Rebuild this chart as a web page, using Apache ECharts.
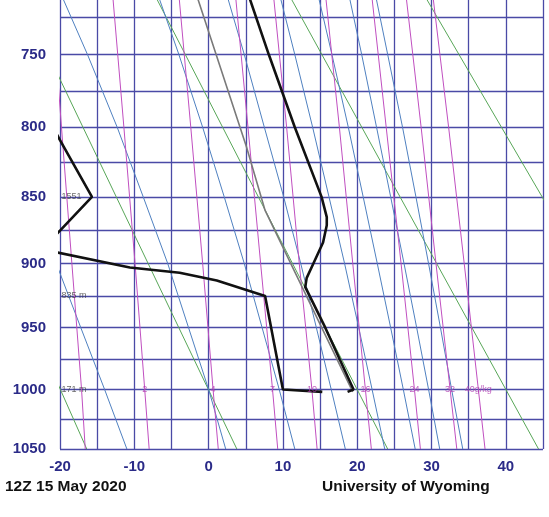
<!DOCTYPE html>
<html>
<head>
<meta charset="utf-8">
<title>stuve</title>
<script src="https://cdn.jsdelivr.net/npm/echarts@6/dist/echarts.min.js"></script>
<style>
  html, body, #main { margin: 0; width: 100%; height: 100%; background: #fff; }
</style>
</head>
<body>
<div id="main"></div>
<script>
// vertical scale of a Stuve diagram: y = p^kappa
var KAPPA = 0.286;
var pk = function (p) { return Math.pow(p, KAPPA); };
var unpk = function (v) { return Math.round(Math.pow(v, 1 / KAPPA)); };

var topPress = 714;
var pressLabels = [750, 800, 850, 900, 950, 1000, 1050];
var pressLines = [725, 750, 775, 800, 825, 850, 875, 900, 925, 950, 975, 1000, 1025, 1050];

// dry adiabats, temperature (C) at 700 and 1050 hPa
var dryLevels = [700, 1050];
var dryAdiabats = [
  [-44.5, -16.4],
  [-26.5, 3.8],
  [-8.4, 24.1],
  [9.6, 44.4],
  [27.7, 64.7]
];

// moist adiabats
var moistLevels = [700, 750, 800, 850, 900, 950, 1000, 1050];
var moistAdiabats = [
  [-36.8, -32.2, -28.0, -24.1, -20.5, -17.2, -14.0, -11.0],
  [-20.8, -16.3, -12.3, -8.8, -5.5, -2.7, 0.0, 2.3],
  [-7.6, -4.0, -0.8, 2.1, 4.8, 7.2, 9.5, 11.6],
  [1.8, 4.8, 7.5, 10.1, 12.4, 14.5, 16.5, 18.4],
  [9.0, 11.6, 14.0, 16.2, 18.3, 20.2, 22.0, 23.7],
  [14.2, 16.6, 18.8, 20.8, 22.7, 24.5, 26.2, 27.8],
  [18.4, 20.6, 22.6, 24.5, 26.3, 28.0, 29.6, 31.1],
  [22.0, 24.1, 26.1, 27.9, 29.6, 31.2, 32.7, 34.2]
];

// saturation mixing ratio lines
var mixLevels = [700, 800, 900, 1000, 1050];
var mixRatios = [
  [-21.3, -19.8, -18.4, -17.1, -16.6],
  [-13.1, -11.4, -9.9, -8.6, -8.0],
  [-4.2, -2.4, -0.8, 0.6, 1.3],
  [3.4, 5.3, 7.0, 8.6, 9.3],
  [8.5, 10.5, 12.2, 13.9, 14.6],
  [15.5, 17.6, 19.4, 21.1, 21.9],
  [21.7, 23.9, 25.9, 27.7, 28.5],
  [26.3, 28.6, 30.6, 32.5, 33.4],
  [29.9, 32.3, 34.4, 36.3, 37.2]
];
var mixNames = ['', '2', '4', '7', '10', '16', '24', '32', '40g/kg'];
var mixLabelLevel = 1000;

// sounding
var tempP = [700, 750, 800, 850, 865, 871, 884, 900, 911, 918, 950, 1000, 1002];
var tempT = [4.6, 8.1, 11.6, 15.2, 15.9, 15.9, 15.4, 14.1, 13.2, 13.0, 15.7, 19.5, 18.7];
var dewP = [781, 809, 850, 875, 889, 903, 907, 913, 925, 1000, 1002];
var dewT = [-23.0, -20.0, -15.7, -20.0, -22.5, -10.6, -3.9, 1.1, 7.6, 10.0, 15.3];
var parcelP = [700, 714, 814, 860, 1002];
var parcelT = [-2.3, -1.4, 5.1, 7.6, 19.4];

var heightP = [850, 925, 1000];
var heightText = ['1551', '835 m', '171 m'];

var FONT = 'Liberation Sans, Arial, sans-serif';
var GRID = '#4a4aa6';

function line(levels, temps, color, width, z) {
  return {
    type: 'line',
    data: levels.map(function (p, i) { return [temps[i], pk(p)]; }),
    showSymbol: false,
    silent: true,
    z: z,
    lineStyle: { color: color, width: width }
  };
}

var series = [];
dryAdiabats.forEach(function (t) { series.push(line(dryLevels, t, '#58a658', 1, 2)); });
moistAdiabats.forEach(function (t) { series.push(line(moistLevels, t, '#4f80c0', 1, 2)); });
mixRatios.forEach(function (t) { series.push(line(mixLevels, t, '#c04fc0', 1, 2)); });
series.push(line(parcelP, parcelT, '#7a7a7a', 1.6, 3));
series.push(line(tempP, tempT, '#111', 2.6, 4));
series.push(line(dewP, dewT, '#111', 2.6, 4));

var li = mixLevels.indexOf(mixLabelLevel);
series.push({
  type: 'scatter',
  silent: true,
  z: 5,
  symbolSize: 1,
  itemStyle: { color: 'rgba(0,0,0,0)' },
  label: { show: true, position: 'inside', formatter: '{b}', color: '#b23cb2', fontSize: 9, fontFamily: FONT },
  data: mixRatios.map(function (t, i) { return { name: mixNames[i], value: [t[li], pk(mixLabelLevel)] }; })
});
series.push({
  type: 'scatter',
  silent: true,
  z: 5,
  symbolSize: 1,
  itemStyle: { color: 'rgba(0,0,0,0)' },
  label: { show: true, position: 'right', distance: 1, formatter: '{b}', color: '#444', fontSize: 9, fontFamily: FONT },
  data: heightP.map(function (p, i) { return { name: heightText[i], value: [-20, pk(p)] }; })
});

var chart = echarts.init(document.getElementById('main'));
chart.setOption({
  animation: false,
  backgroundColor: '#fff',
  grid: { left: 60, right: 6, top: 0, bottom: 68, outerBoundsMode: 'none' },
  xAxis: {
    type: 'value',
    min: -20,
    max: 45,
    interval: 5,
    axisLine: { show: false },
    axisTick: { show: false },
    splitLine: { show: true, lineStyle: { color: GRID, width: 1.3 } },
    axisLabel: {
      margin: 10,
      color: '#2b2b88',
      fontSize: 15,
      fontWeight: 'bold',
      fontFamily: FONT,
      formatter: function (v) { return v % 10 === 0 && v < 45 ? String(v) : ''; }
    }
  },
  yAxis: {
    type: 'value',
    inverse: true,
    min: pk(topPress),
    max: pk(1050),
    axisLine: { show: false },
    axisTick: { show: false, customValues: pressLines.map(pk) },
    splitLine: { show: true, lineStyle: { color: GRID, width: 1.3 } },
    axisLabel: {
      customValues: pressLabels.map(pk),
      margin: 14,
      color: '#2b2b88',
      fontSize: 15,
      fontWeight: 'bold',
      fontFamily: FONT,
      formatter: function (v) { return String(unpk(v)); }
    }
  },
  graphic: [
    { type: 'text', left: 5, top: 479, style: { text: '12Z 15 May 2020', font: 'bold 15.5px ' + FONT, fill: '#111' } },
    { type: 'text', left: 322, top: 479, style: { text: 'University of Wyoming', font: 'bold 15.5px ' + FONT, fill: '#111' } }
  ],
  series: series
});
</script>
</body>
</html>
